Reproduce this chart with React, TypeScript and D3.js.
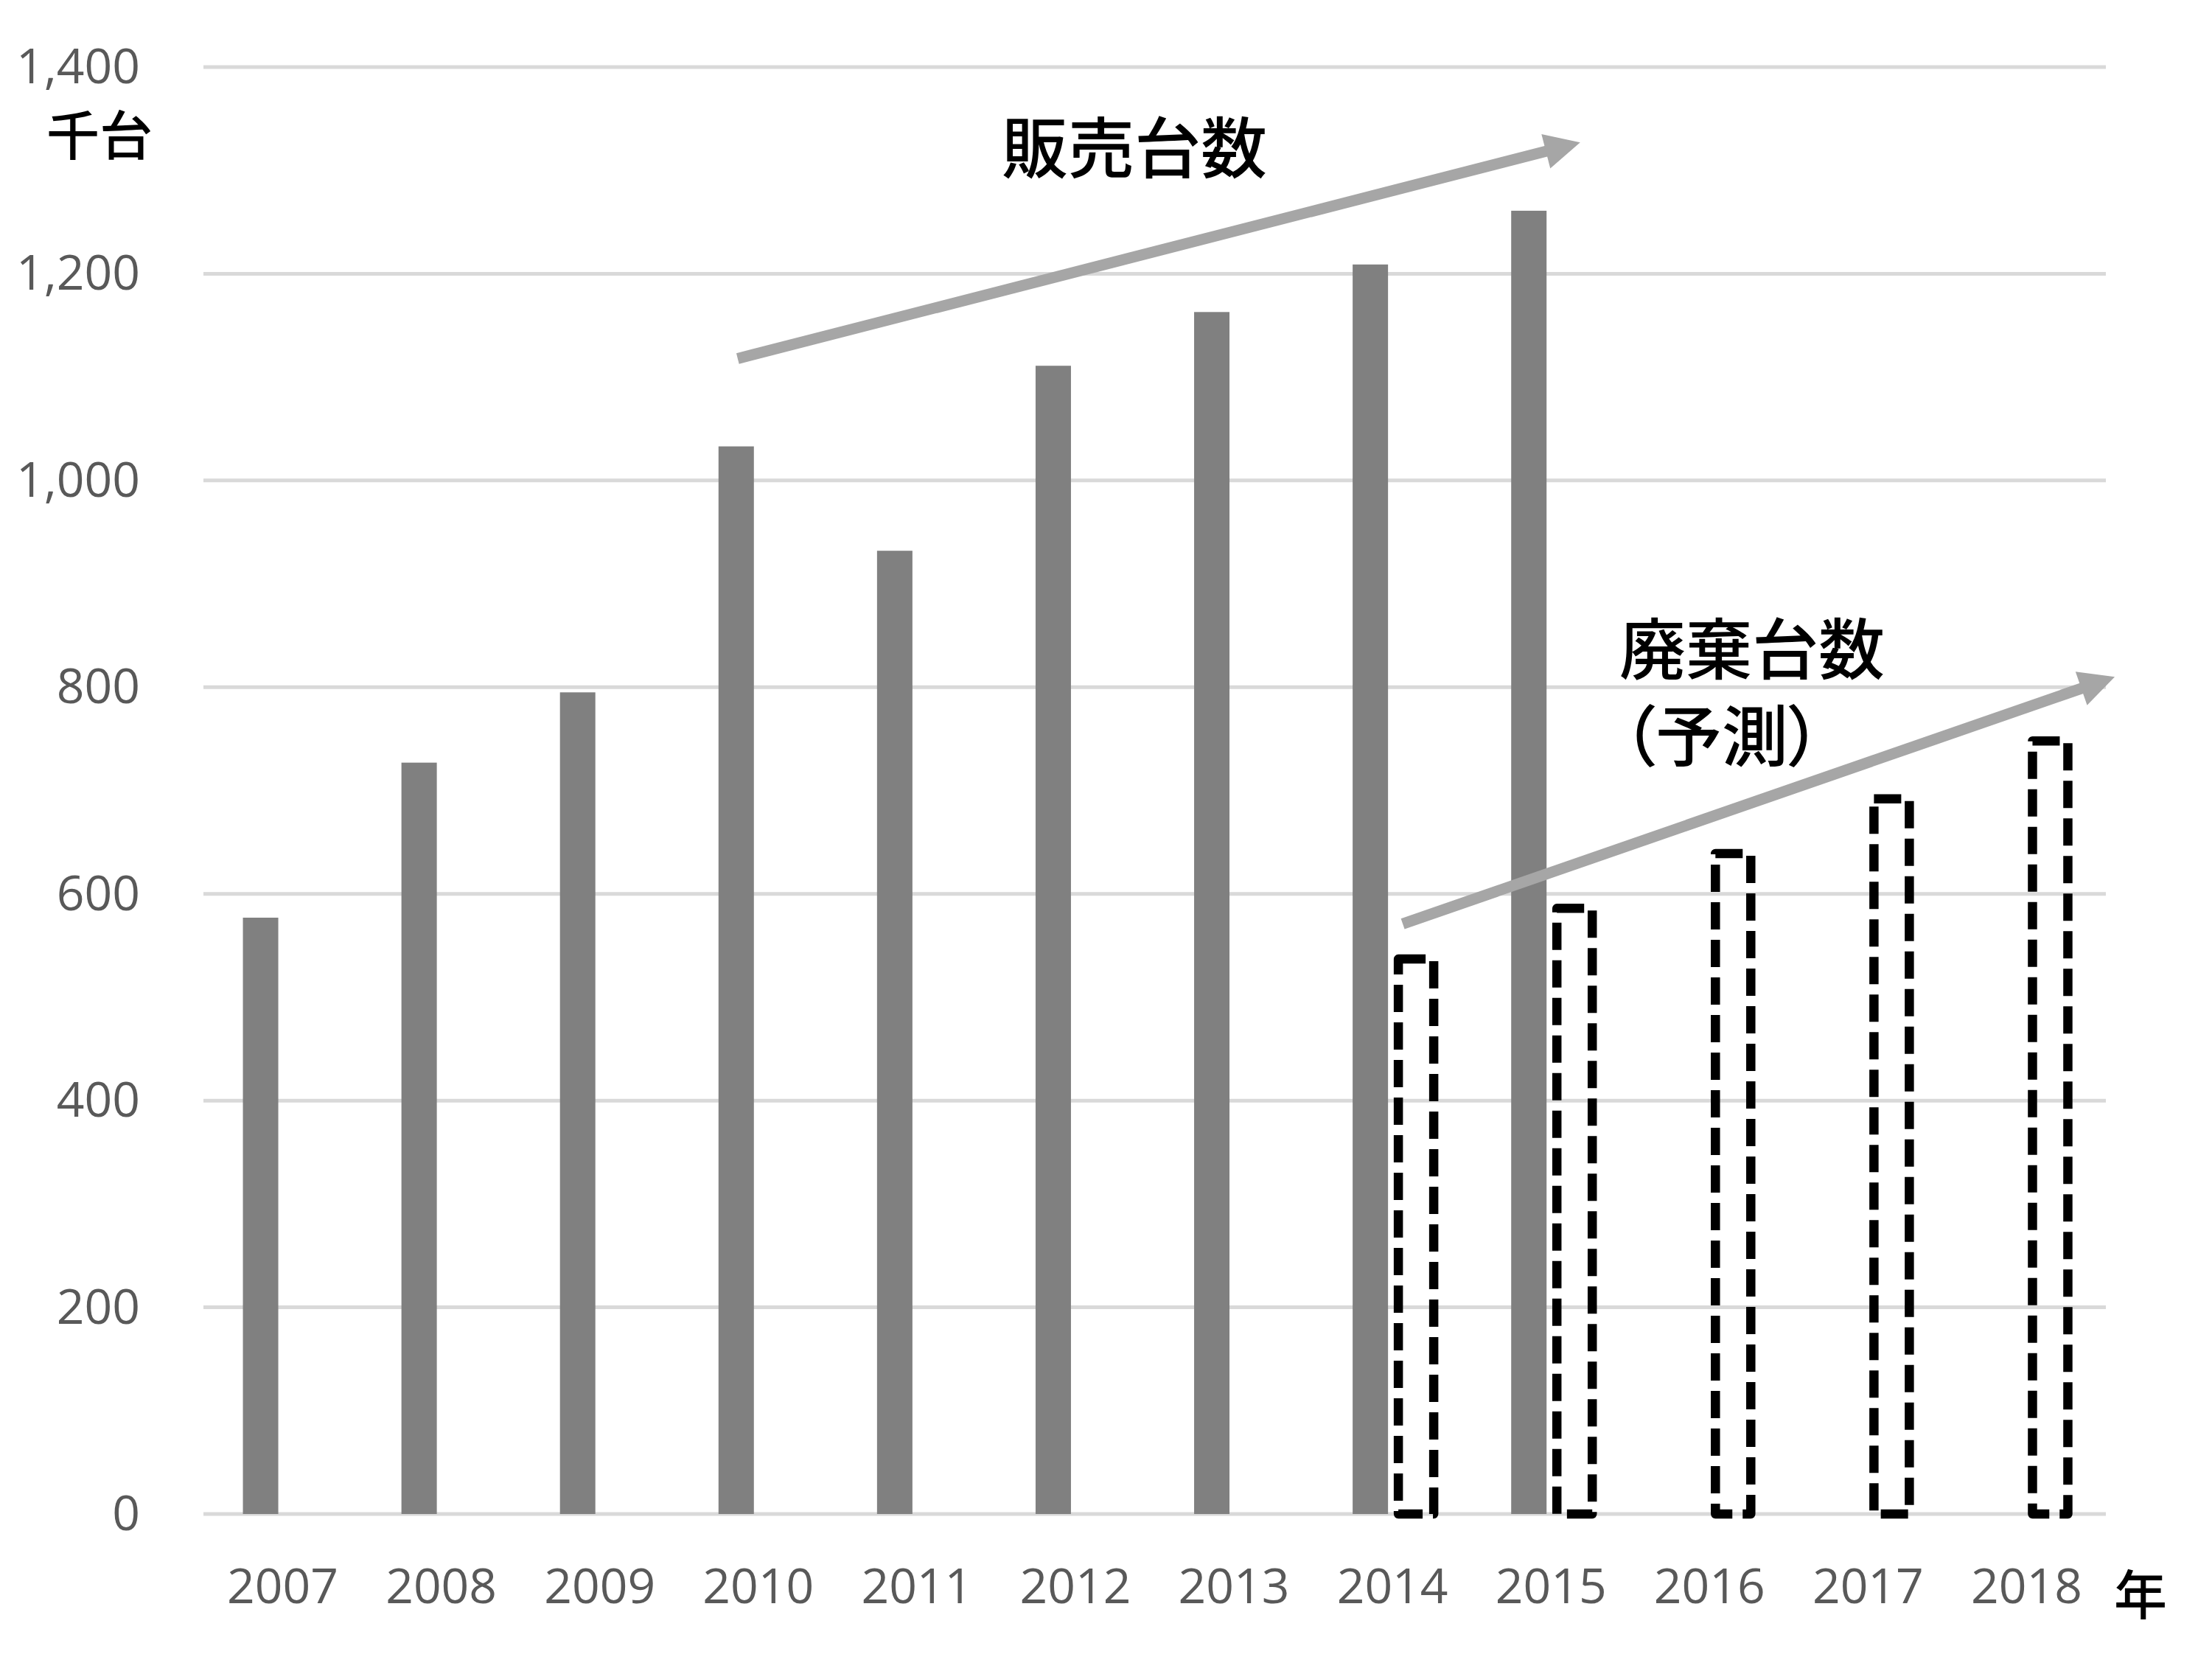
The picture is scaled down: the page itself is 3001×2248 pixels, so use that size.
import React from 'react';
import * as d3 from 'd3';

const years = ['2007','2008','2009','2010','2011','2012','2013','2014','2015','2016','2017','2018'];
const sales: (number|null)[] = [577, 727, 795, 1033, 932, 1111, 1163, 1209, 1261, null, null, null];
const disposal: (number|null)[] = [null, null, null, null, null, null, null, 537, 586, 639, 692, 748];
const yTicks = [0, 200, 400, 600, 800, 1000, 1200, 1400];
const seriesKeys = ['sales', 'disposal'];

// annotation arrows in data space: [band index position, value]
const salesArrow = { from: [3.37, 1118], to: [8.684, 1327] };
const disposalArrow = { from: [7.565, 571], to: [12.056, 810] };

const W = 3001, H = 2248;
const PL = 276, PR = 2857, PT = 91, PB = 2054;

function Arrow({ x1, y1, x2, y2 }: { x1: number; y1: number; x2: number; y2: number }) {
  const dx = x2 - x1, dy = y2 - y1;
  const len = Math.sqrt(dx * dx + dy * dy);
  const ux = dx / len, uy = dy / len;
  const px = -uy, py = ux;
  const hl = 48, hw = 24, sw = 15;
  const bx = x2 - ux * hl, by = y2 - uy * hl;
  const head = [
    [x2, y2],
    [bx + px * hw, by + py * hw],
    [bx - px * hw, by - py * hw],
  ].map(p => p.join(',')).join(' ');
  return (
    <g>
      <line x1={x1} y1={y1} x2={bx + ux * 2} y2={by + uy * 2} stroke="#a6a6a6" strokeWidth={sw} />
      <polygon points={head} fill="#a6a6a6" />
    </g>
  );
}

export default function App() {
  const x = d3.scaleBand<string>().domain(years).range([PL, PR]).padding(0);
  const inner = d3.scaleBand<string>().domain(seriesKeys).range([-54, 56]).paddingInner(14 / 62).paddingOuter(0);
  const y = d3.scaleLinear().domain([0, 1400]).range([PB, PT]);
  const xi = d3.scaleLinear().domain([0, 12]).range([PL, PR]);
  const bw = inner.bandwidth();
  const c = (yr: string) => (x(yr) as number) + x.bandwidth() / 2;

  const numFont = '"Open Sans", "Noto Sans", sans-serif';
  const cjkFont = '"Noto Sans CJK JP", sans-serif';

  return (
    <svg width={W} height={H} style={{ position: 'absolute', left: 0, top: 0, background: '#fff' }}>
      <rect x={0} y={0} width={W} height={H} fill="#fff" />
      {yTicks.map(t => (
        <g key={t}>
          <line x1={PL} x2={PR} y1={y(t)} y2={y(t)} stroke="#d9d9d9" strokeWidth={5} />
          <text x={190} y={y(t) + 22} textAnchor="end" fontFamily={numFont} fontSize={66} fill="#595959">
            {d3.format(',')(t)}
          </text>
        </g>
      ))}
      {years.map((yr, i) => sales[i] != null ? (
        <rect key={'s' + yr} x={c(yr) + (inner('sales') as number)} width={bw}
          y={y(sales[i] as number)} height={PB - y(sales[i] as number)} fill="#808080" />
      ) : null)}
      {years.map((yr, i) => disposal[i] != null ? (
        <rect key={'d' + yr} x={c(yr) + (inner('disposal') as number)} width={bw}
          y={y(disposal[i] as number)} height={PB - y(disposal[i] as number)} fill="none"
          stroke="#000" strokeWidth={12.5} strokeDasharray="37 14" strokeLinejoin="round" />
      ) : null)}
      {years.map(yr => (
        <text key={'x' + yr} x={c(yr)} y={2175} textAnchor="middle" fontFamily={numFont} fontSize={66} fill="#595959">{yr}</text>
      ))}
      <Arrow x1={xi(salesArrow.from[0])} y1={y(salesArrow.from[1])} x2={xi(salesArrow.to[0])} y2={y(salesArrow.to[1])} />
      <Arrow x1={xi(disposalArrow.from[0])} y1={y(disposalArrow.from[1])} x2={xi(disposalArrow.to[0])} y2={y(disposalArrow.to[1])} />
      <text x={63} y={210} fontFamily={cjkFont} fontSize={72} fontWeight={500} fill="#000">千台</text>
      <text x={2868} y={2190} fontFamily={cjkFont} fontSize={72} fontWeight={500} fill="#000">年</text>
      <text x={1359} y={234} fontFamily={cjkFont} fontSize={90} fontWeight={500} fill="#000">販売台数</text>
      <text x={2197} y={914} fontFamily={cjkFont} fontSize={90} fontWeight={500} fill="#000">廃棄台数</text>
      <text x={2201} y={1032} fontFamily={cjkFont} fontSize={90} fontWeight={500} fill="#000" style={{ fontFeatureSettings: '"palt"' }}>（予測）</text>
    </svg>
  );
}
